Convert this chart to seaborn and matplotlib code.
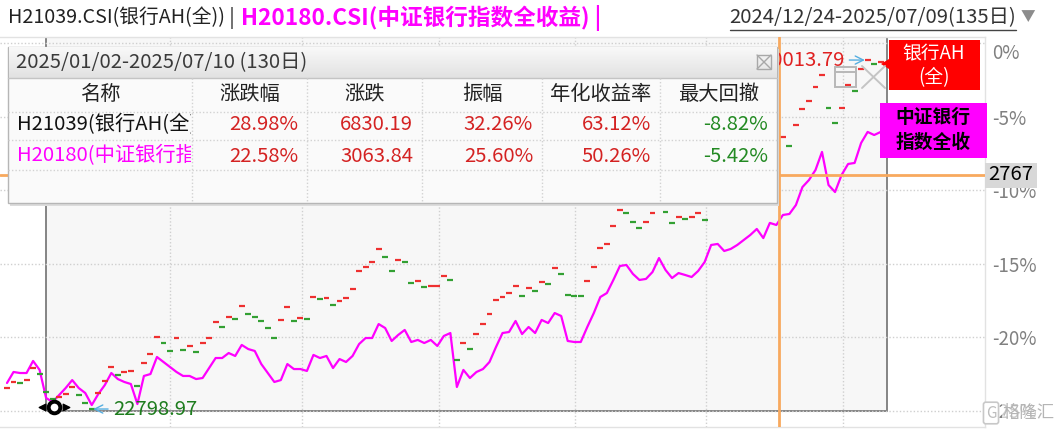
import numpy as np
import pandas as pd
import matplotlib.pyplot as plt
import matplotlib.patches as patches
from matplotlib.transforms import Bbox, TransformedBbox
import seaborn as sns

# 1. data: both series on the shared % axis, 135 trading days (2024/12/24 - 2025/07/09)
bank_pct = [-23.13, -22.38, -22.45, -22.45, -21.63, -22.24, -24.15, -24.42, -23.95, -23.47,
            -22.93, -23.47, -23.81, -24.63, -23.88, -23.27, -22.45, -22.86, -23.06, -23.20,
            -24.56, -22.65, -22.52, -21.36, -21.70, -22.04, -22.38, -22.65, -22.65, -22.86,
            -22.79, -22.11, -21.43, -21.43, -21.09, -21.29, -20.54, -20.82, -20.95, -21.84,
            -22.45, -23.06, -22.93, -21.84, -22.18, -22.18, -22.31, -21.22, -21.43, -21.29,
            -22.11, -21.50, -21.70, -21.29, -20.48, -20.07, -20.07, -19.12, -19.39, -20.27,
            -19.86, -19.52, -20.34, -20.20, -20.41, -20.20, -20.61, -19.93, -19.73, -23.40,
            -22.24, -22.79, -22.38, -22.18, -21.70, -20.68, -19.73, -19.66, -18.91, -19.80,
            -19.32, -19.73, -18.84, -19.05, -18.37, -18.57, -20.27, -20.34, -20.34, -19.32,
            -18.37, -17.28, -17.01, -16.12, -15.17, -15.10, -15.71, -16.12, -16.05, -15.58,
            -14.63, -15.44, -15.99, -15.65, -15.78, -15.92, -15.51, -14.90, -13.74, -13.67,
            -14.15, -14.01, -13.74, -13.40, -13.06, -12.65, -13.27, -12.24, -12.38, -11.70,
            -11.63, -11.02, -9.80, -9.32, -8.64, -7.41, -9.66, -10.14, -8.98, -8.23,
            -8.16, -6.80, -6.05, -6.26, -6.05]

ah_pct = [-23.47, -23.06, -23.13, -22.93, -22.11, -22.52, -23.74, -24.22, -24.08, -23.88,
          -23.40, -23.95, -24.49, -24.90, -23.81, -22.99, -22.04, -22.59, -22.38, -22.31,
          -23.33, -21.77, -21.16, -20.00, -20.41, -20.95, -20.07, -20.88, -20.61, -21.02,
          -20.41, -20.07, -18.98, -19.32, -18.64, -18.78, -17.89, -18.44, -18.64, -18.91,
          -19.39, -20.07, -18.84, -17.96, -18.91, -18.71, -18.78, -17.28, -17.41, -17.38,
          -17.82, -17.55, -17.35, -16.73, -15.51, -15.24, -14.90, -14.01, -14.56, -15.51,
          -14.76, -14.90, -16.33, -16.19, -16.60, -16.53, -16.50, -15.85, -16.12, -21.56,
          -20.41, -20.82, -19.80, -19.12, -18.44, -17.48, -17.28, -17.01, -16.53, -17.21,
          -16.67, -16.87, -16.26, -16.39, -15.31, -15.71, -17.14, -17.18, -17.21, -16.19,
          -15.24, -13.95, -13.67, -12.45, -11.36, -11.56, -12.18, -12.59, -12.18, -11.56,
          -10.88, -11.50, -12.24, -11.84, -11.97, -11.84, -11.56, -12.04, -10.68, -10.34,
          -10.88, -10.54, -10.00, -9.32, -8.78, -7.96, -8.64, -6.60, -6.87, -6.39,
          -7.01, -5.58, -4.49, -3.95, -2.99, -2.18, -4.42, -5.44, -4.42, -2.86,
          -3.27, -1.77, -1.16, -1.43, -1.29]

ah_max_label = '30013.79'
ah_min_label = '22798.97'
cursor_x, cursor_y, cursor_label = 118.4, -8.98, '2767'
sel_start, sel_end = 6, 135          # 2025/01/02 - 2025/07/10
y_ticks = [0, -5, -10, -15, -20, -25]

# table in the info box
col_names = ['名称', '涨跌幅', '涨跌', '振幅', '年化收益率', '最大回撤']
row_names = ['H21039(银行AH(全))', 'H20180(中证银行指数全收益)']
pct_chg = [28.98, 22.58]
chg = [6830.19, 3063.84]
amplitude = [32.26, 25.60]
annual = [63.12, 50.26]
max_dd = [-8.82, -5.42]

days = np.arange(len(bank_pct))
df = pd.DataFrame({'day': days, 'bank': bank_pct, 'ah': ah_pct})
df['dir'] = np.where(df['ah'].diff().fillna(1) > 0, 'up', 'down')

# 2. style
sns.set_theme(style='white')
plt.rcParams['font.family'] = ['Noto Sans CJK SC', 'DejaVu Sans']
plt.rcParams['axes.unicode_minus'] = False
FS = 14.6

W, H = 1057, 429
fig = plt.figure(figsize=(W / 100, H / 100), dpi=100)
fig.patch.set_facecolor('white')

# main plot area (pixel 0..985 x 37..427)
ax = fig.add_axes([0, 2 / H, 985 / W, 390 / H])
ax.set_facecolor('white')
ax.set_xlim(-7 / 6.52, 978 / 6.52)
ax.set_ylim((43 - 427) / 14.7, (43 - 37) / 14.7)

# selected range box
ax.add_patch(patches.Rectangle((sel_start, -25), sel_end - sel_start, 30,
                               fc='#f7f7f7', ec='#7c7c7c', lw=1.3, zorder=0.2))

ax.set_yticks(y_ticks)
ax.set_yticklabels([f'{t}%' for t in y_ticks])
ax.set_xticks([25.0, 45.3, 66.3, 87.1, 107.2, 128.2])
ax.grid(True, color='#cfcfcf', linestyle=(0, (1, 1.5)), lw=1)
ax.set_axisbelow(True)
ax.yaxis.tick_right()
ax.tick_params(axis='x', length=0, labelbottom=False)
ax.tick_params(axis='y', length=0, labelright=True, labelleft=False,
               labelsize=13.5, labelcolor='#808080', pad=5)
ax.get_yticklabels()[0].set_va('top')
ax.spines['left'].set_visible(False)
for s in ['top', 'bottom', 'right']:
    ax.spines[s].set_color('#e2e2e2')
    ax.spines[s].set_linewidth(1)

# 3. series
sns.lineplot(data=df, x='day', y='bank', color='#ff00ff', lw=1.6, ax=ax,
             legend=False, zorder=3)
sns.scatterplot(data=df, x='day', y='ah', hue='dir',
                palette={'up': '#ee3030', 'down': '#33a033'}, marker='_',
                s=18, linewidth=1.6, legend=False, ax=ax, zorder=4)
ax.set_xlabel('')
ax.set_ylabel('')

# max / min labels
imax, imin = int(np.argmax(ah_pct)), int(np.argmin(ah_pct))
ax.annotate(ah_max_label, xy=(imax, ah_pct[imax]), xytext=(-23, 0),
            textcoords='offset pixels', ha='right', va='center', fontsize=FS,
            color='#e02020', zorder=6,
            arrowprops=dict(arrowstyle='->', color='#56aee0', lw=1, shrinkA=1, shrinkB=2))
ax.annotate(ah_min_label, xy=(imin, ah_pct[imin]), xytext=(21, 0),
            textcoords='offset pixels', ha='left', va='center', fontsize=FS,
            color='#1e7d1e', zorder=6,
            arrowprops=dict(arrowstyle='->', color='#56aee0', lw=1, shrinkA=1, shrinkB=1))

# cursor cross
ax.axvline(cursor_x, color='#f8a95e', lw=2, zorder=5)
ax.axhline(cursor_y, color='#f8a95e', lw=2, zorder=5)

# 4. overlay in pixel coords (title bar, info box, labels)
ov = fig.add_axes([0, 0, 1, 1], zorder=10)
ov.axis('off')

ov.text(8, 18, 'H21039.CSI(银行AH(全)) |', fontsize=14.2, color='#222222', va='center')
ov.text(241, 18, 'H20180.CSI(中证银行指数全收益) |', fontsize=16.3, color='#ff00ff',
        va='center', fontweight='bold')
ov.text(1016, 18, '2024/12/24-2025/07/09(135日)', fontsize=FS, color='#333333',
        va='center', ha='right')
ov.plot([730, 1016], [30, 30], color='#444444', lw=1)
ov.text(1021, 17, '▼', fontsize=10.5, color='#8c8c8c', va='center')

# info box
ov.add_patch(patches.Rectangle((10, 49), 769, 157, fc='#dcdcdc', ec='none', zorder=19))
ov.add_patch(patches.Rectangle((8, 47), 769, 156, fc='#fafafa', ec='#b6b6b6', lw=1, zorder=20))
g = np.linspace(0, 1, 32)[:, None, None]
img = np.array([0.975, 0.975, 0.975]) + (np.array([0.885, 0.885, 0.885]) - 0.975) * g
ov.imshow(img, extent=(8.6, 776.4, 78, 47.6), aspect='auto', zorder=21, interpolation='bilinear')
ov.plot([8, 777], [78, 78], color='#c4c4c4', lw=1, zorder=22)
ov.text(16, 63, '2025/01/02-2025/07/10 (130日)', fontsize=FS, color='#3a3a3a',
        va='center', zorder=23)
ov.add_patch(patches.Rectangle((757, 55), 14, 14, fill=False, ec='#a8a8a8', lw=1, zorder=23))
ov.plot([757, 771], [55, 69], color='#a8a8a8', lw=1, zorder=23)
ov.plot([757, 771], [69, 55], color='#a8a8a8', lw=1, zorder=23)

col_edges = [8, 192, 307, 422, 542, 660, 777]
for cx in col_edges[1:-1]:
    ov.plot([cx, cx], [78, 203], color='#d2d2d2', lw=1, ls=(0, (1, 1.5)), zorder=22)
for ry in [112, 140, 170]:
    ov.plot([8, 777], [ry, ry], color='#d2d2d2', lw=1, ls=(0, (1, 1.5)), zorder=22)
for k, name in enumerate(col_names):
    ov.text((col_edges[k] + col_edges[k + 1]) / 2, 95, name, fontsize=FS,
            color='#222222', ha='center', va='center', zorder=23)

row_y = [125, 156]
name_colors = ['#111111', '#ff00ff']
clip = TransformedBbox(Bbox([[8, 47], [191, 203]]), ov.transData)
for r in range(2):
    t = ov.text(17, row_y[r], row_names[r], fontsize=FS, color=name_colors[r],
                va='center', zorder=23)
    t.set_clip_box(clip)
    t.set_clip_on(True)
    vals = [f'{pct_chg[r]:.2f}%', f'{chg[r]:.2f}', f'{amplitude[r]:.2f}%',
            f'{annual[r]:.2f}%', f'{max_dd[r]:.2f}%']
    nums = [pct_chg[r], chg[r], amplitude[r], annual[r], max_dd[r]]
    for c, (v, n) in enumerate(zip(vals, nums)):
        ov.text(col_edges[c + 2] - 9, row_y[r], v, fontsize=FS, ha='right', va='center',
                color='#d42222' if n > 0 else '#238a23', zorder=23)

# right side labels
ov.add_patch(patches.Rectangle((889, 40), 91, 50, fc='#ff0000', ec='none', zorder=12))
ov.add_patch(patches.Polygon([(881, 64), (889, 59), (889, 69)], fc='#ff0000', ec='none', zorder=12))
ov.text(934, 54, '银行AH', fontsize=13.5, color='white', ha='center', va='center', zorder=13)
ov.text(934, 78, '(全)', fontsize=13.5, color='white', ha='center', va='center', zorder=13)
ov.add_patch(patches.Rectangle((880, 103), 107, 55, fc='#ff00ff', ec='none', zorder=12))
ov.text(933, 117, '中证银行', fontsize=13.5, color='black', ha='center', va='center',
        fontweight='bold', zorder=13)
ov.text(933, 142, '指数全收', fontsize=13.5, color='black', ha='center', va='center',
        fontweight='bold', zorder=13)
ov.add_patch(patches.Rectangle((985, 163), 52, 25, fc='#d8d8d8', ec='none', zorder=12))
ov.text(988, 175, cursor_label, fontsize=FS, color='black', va='center', zorder=13)

# small window icons
ov.add_patch(patches.Rectangle((835, 67), 21, 20, fill=False, ec='#b8b8b8', lw=1.4, zorder=12))
ov.plot([835, 856], [72, 72], color='#b8b8b8', lw=1.4, zorder=12)
ov.plot([862, 885], [66, 88], color='#c4c4c4', lw=1.4, zorder=12)
ov.plot([862, 885], [88, 66], color='#c4c4c4', lw=1.4, zorder=12)

# eye icon bottom left
ov.scatter([54], [407], s=70, marker='o', facecolor='white', edgecolor='black',
           linewidth=2.8, zorder=12)
ov.scatter([66], [407], s=22, marker='>', color='black', zorder=12)
ov.scatter([42], [407], s=22, marker='<', color='black', zorder=12)

# watermark (sits over the -25% label as in the screenshot)
ov.text(991, 413, 'G', fontsize=11, color='#bdbdbd', ha='center', va='center', zorder=12,
        bbox=dict(boxstyle='round,pad=0.15', fc='white', ec='#c8c8c8', lw=1.2))
ov.text(1003, 413, '格隆汇', fontsize=12.5, color='#b5b5b5', va='center', zorder=12,
        bbox=dict(boxstyle='square,pad=0.05', fc='white', ec='none', alpha=0.6))

ov.set_xlim(0, W)
ov.set_ylim(H, 0)

plt.savefig('out.png', dpi=100)
